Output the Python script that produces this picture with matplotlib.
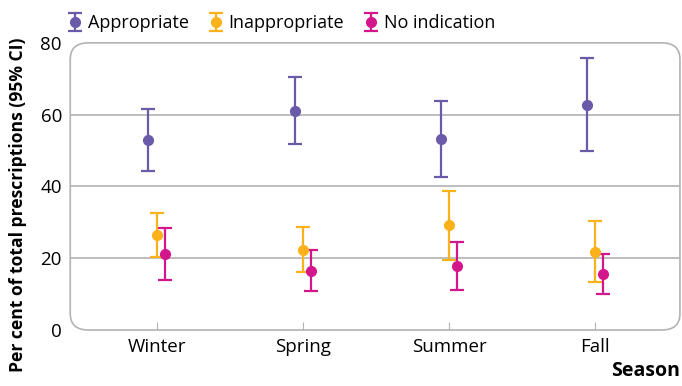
import numpy as np
import matplotlib
matplotlib.use('Agg')
import matplotlib.pyplot as plt
from matplotlib.patches import FancyBboxPatch

plt.rcParams['font.family'] = ['Open Sans', 'DejaVu Sans']

seasons = ['Winter', 'Spring', 'Summer', 'Fall']

appr = [52.9, 61.0, 53.2, 62.7]
appr_lo = [44.3, 51.8, 42.6, 49.9]
appr_hi = [61.6, 70.5, 63.8, 75.8]

inappr = [26.5, 22.3, 29.2, 21.8]
inappr_lo = [20.3, 16.2, 19.5, 13.4]
inappr_hi = [32.6, 28.7, 38.8, 30.4]

noind = [21.2, 16.4, 17.8, 15.6]
noind_lo = [13.9, 10.9, 11.1, 10.0]
noind_hi = [28.4, 22.3, 24.5, 21.3]

series = [
    ('Appropriate', appr, appr_lo, appr_hi, '#6b5aa9', -0.055),
    ('Inappropriate', inappr, inappr_lo, inappr_hi, '#fbb21a', 0.0),
    ('No indication', noind, noind_lo, noind_hi, '#d4168c', 0.055),
]

fig = plt.figure(figsize=(6.82, 3.86), dpi=100)
ax = fig.add_axes([0.103, 0.145, 0.894, 0.744])

x = np.arange(len(seasons))
for name, v, lo, hi, col, off in series:
    v = np.array(v)
    yerr = [v - np.array(lo), np.array(hi) - v]
    ax.errorbar(x + off, v, yerr=yerr, fmt='o', color=col, ms=7, lw=1.6,
                capsize=5, capthick=1.6, label=name)

ax.set_ylim(0, 80)
ax.set_xlim(-0.59, 3.58)
ax.set_yticks([0, 20, 40, 60, 80])
ax.set_xticks(x)
ax.set_xticklabels(seasons)
for yv in [20, 40, 60]:
    ax.axhline(yv, color='#b3b3b3', lw=1.2, zorder=0)

for s in ax.spines.values():
    s.set_visible(False)
frame = FancyBboxPatch((0, 0), 1, 1, boxstyle='round,pad=0,rounding_size=0.03',
                       transform=ax.transAxes, fill=False, ec='#b3b3b3', lw=1.2,
                       clip_on=False, mutation_aspect=1.9)
ax.add_patch(frame)

ax.tick_params(axis='y', length=0, labelsize=13.5, pad=6)
ax.tick_params(axis='x', direction='in', length=6, color='#b3b3b3', labelsize=13.5, pad=6)

# y label placed by hand in figure coords
fig.text(0.027, 0.47, 'Per cent of total prescriptions (95% CI)', rotation=90,
         ha='center', va='center', fontsize=12.6, fontweight='bold')
fig.text(0.997, 0.012, 'Season', ha='right', va='bottom', fontsize=14, fontweight='bold')

ax.legend(loc='lower left', bbox_to_anchor=(-0.019, 1.006), ncol=3, frameon=False,
          fontsize=13, handletextpad=0.3, columnspacing=1.1, handlelength=0.8,
          borderaxespad=0.1)

fig.savefig('out.png', dpi=100)
